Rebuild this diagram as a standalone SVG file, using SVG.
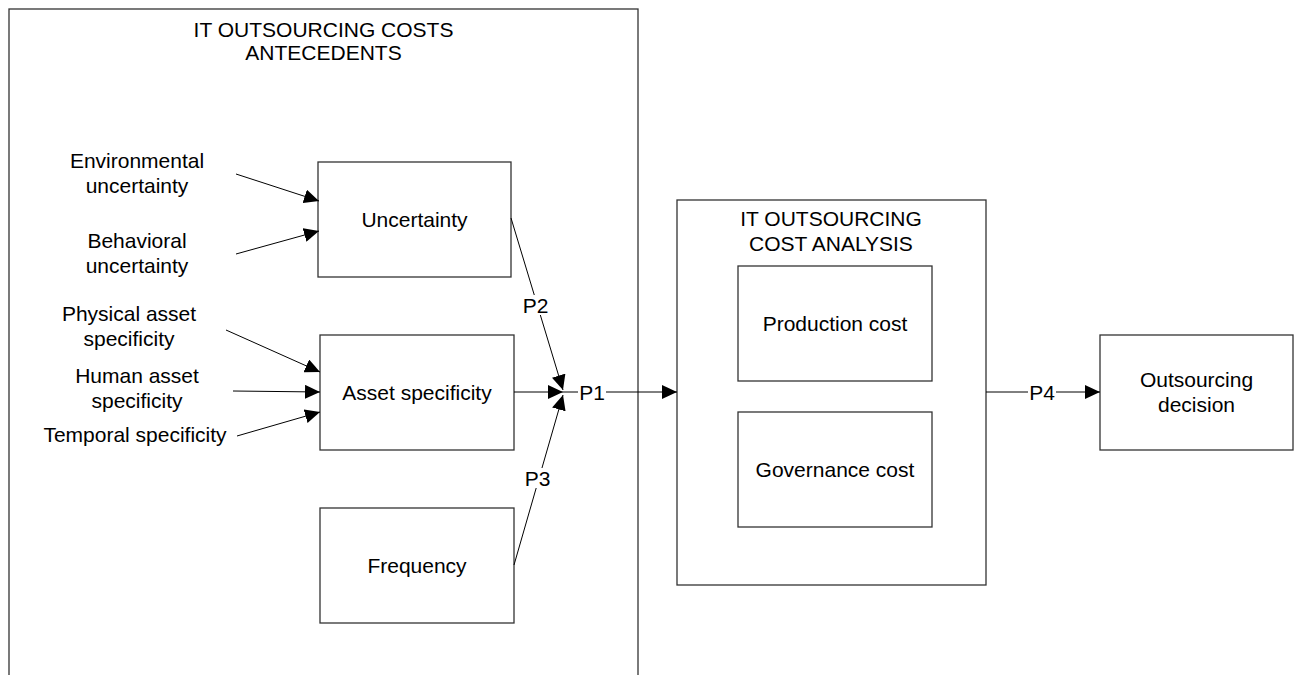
<svg xmlns="http://www.w3.org/2000/svg" width="1296" height="675" viewBox="0 0 1296 675">
<style>
text{font-family:"Liberation Sans",Arial,sans-serif;font-size:21px;fill:#000;text-anchor:middle}
.box{fill:#fff;stroke:#333;stroke-width:1.3}
.ln{stroke:#000;stroke-width:1;fill:none}
.bg{fill:#fff}
</style>
<defs>
<marker id="ah" markerUnits="userSpaceOnUse" markerWidth="16" markerHeight="14" refX="15" refY="7" orient="auto">
<path d="M0,0 L15,7 L0,14 Z" fill="#000"/>
</marker>
</defs>
<rect width="1296" height="675" fill="#fff"/>
<g id="antecedents">
<rect class="box" x="9" y="9" width="629" height="700"/>
<text x="323.5" y="37">IT OUTSOURCING COSTS</text>
<text x="323.5" y="60">ANTECEDENTS</text>
</g>
<g id="uncertainty"><rect class="box" x="318" y="162" width="193" height="115"/><text x="414.5" y="227">Uncertainty</text></g>
<g id="asset"><rect class="box" x="320" y="335" width="194" height="115"/><text x="417" y="400">Asset specificity</text></g>
<g id="frequency"><rect class="box" x="320" y="508" width="194" height="115"/><text x="417" y="573">Frequency</text></g>
<g id="env"><text x="137" y="167.5">Environmental</text><text x="137" y="192.5">uncertainty</text></g>
<g id="beh"><text x="137" y="247.5">Behavioral</text><text x="137" y="272.5">uncertainty</text></g>
<g id="phys"><text x="129" y="320.5">Physical asset</text><text x="129" y="345.5">specificity</text></g>
<g id="human"><text x="137" y="382.5">Human asset</text><text x="137" y="407.5">specificity</text></g>
<g id="temporal"><text x="135" y="441.5">Temporal specificity</text></g>
<g id="costanalysis">
<rect class="box" x="677" y="200" width="309" height="385"/>
<text x="831" y="225.5">IT OUTSOURCING</text>
<text x="831" y="250.5">COST ANALYSIS</text>
</g>
<g id="production"><rect class="box" x="738" y="266" width="194" height="115"/><text x="835" y="331">Production cost</text></g>
<g id="governance"><rect class="box" x="738" y="412" width="194" height="115"/><text x="835" y="477">Governance cost</text></g>
<g id="decision"><rect class="box" x="1100" y="335" width="193" height="115"/><text x="1196.5" y="386.5">Outsourcing</text><text x="1196.5" y="411.5">decision</text></g>
<g id="connectors">
<line class="ln" x1="236" y1="174" x2="319" y2="201" marker-end="url(#ah)"/>
<line class="ln" x1="236" y1="254" x2="319" y2="231" marker-end="url(#ah)"/>
<line class="ln" x1="226" y1="330" x2="320" y2="372" marker-end="url(#ah)"/>
<line class="ln" x1="233" y1="391" x2="320" y2="392" marker-end="url(#ah)"/>
<line class="ln" x1="237" y1="436" x2="320" y2="412" marker-end="url(#ah)"/>
<line class="ln" x1="511" y1="218" x2="563" y2="390" marker-end="url(#ah)"/>
<line class="ln" x1="514" y1="392" x2="563" y2="392" marker-end="url(#ah)"/>
<line class="ln" x1="514" y1="565" x2="563" y2="395" marker-end="url(#ah)"/>
<line class="ln" x1="563" y1="392" x2="677" y2="392" marker-end="url(#ah)"/>
<line class="ln" x1="986" y1="392" x2="1100" y2="392" marker-end="url(#ah)"/>
<rect class="bg" x="523" y="295" width="25" height="20"/><text x="535.5" y="312.5">P2</text>
<rect class="bg" x="525" y="468" width="25" height="20"/><text x="537.5" y="485.5">P3</text>
<rect class="bg" x="578" y="382" width="28" height="20"/><text x="592" y="399.5">P1</text>
<rect class="bg" x="1028" y="382" width="28" height="20"/><text x="1042" y="399.5">P4</text>
</g>
</svg>
